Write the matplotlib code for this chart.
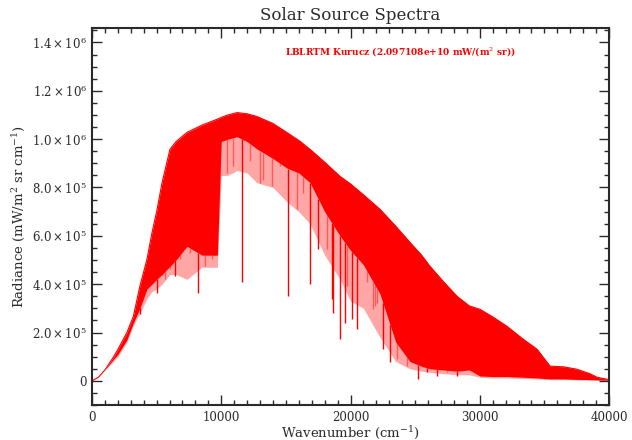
import matplotlib
matplotlib.use("Agg")
import matplotlib.pyplot as plt
from matplotlib.ticker import MultipleLocator, FixedLocator
import numpy as np

# envelope of the Kurucz solar spectrum
wavenumber = [0, 500, 1000, 1650, 2000, 2700, 3200, 3700, 4250, 4640, 5000, 5420,
              6030, 6500, 7350, 8500, 9700, 10000, 10500, 11220, 12000, 12750,
              14000, 15090, 16000, 16870, 18000, 19190, 20000, 21000, 22280,
              23500, 24600, 25500, 26150, 27200, 28240, 29200, 30020, 31000,
              32100, 33300, 34430, 35440, 36500, 37520, 38500, 39070, 40000]
upper = [0, 15e3, 45e3, 98e3, 130e3, 200e3, 267e3, 391e3, 503e3, 613e3, 700e3,
         820e3, 958e3, 990e3, 1028e3, 1058e3, 1083e3, 1090e3, 1100e3, 1110e3,
         1105e3, 1094e3, 1065e3, 1027e3, 995e3, 958e3, 905e3, 846e3, 815e3,
         770e3, 710e3, 640e3, 573e3, 520e3, 474e3, 410e3, 350e3, 310e3, 296e3,
         265e3, 226e3, 175e3, 131e3, 61e3, 58e3, 48e3, 30e3, 15e3, 5e3]
dense_lower = [0, 15e3, 45e3, 88e3, 110e3, 170e3, 240e3, 300e3, 380e3, 400e3,
               420e3, 440e3, 474e3, 500e3, 557e3, 520e3, 520e3, 990e3, 1000e3,
               1010e3, 990e3, 960e3, 920e3, 880e3, 860e3, 820e3, 700e3, 600e3,
               540e3, 480e3, 360e3, 160e3, 80e3, 60e3, 50e3, 45e3, 40e3, 45e3,
               20e3, 18e3, 18e3, 15e3, 12e3, 8e3, 8e3, 6e3, 5e3, 4e3, 3e3]
faint_lower = [0, 15e3, 45e3, 80e3, 100e3, 160e3, 230e3, 280e3, 340e3, 370e3,
               380e3, 400e3, 440e3, 440e3, 420e3, 470e3, 470e3, 850e3, 850e3,
               870e3, 860e3, 820e3, 800e3, 740e3, 700e3, 650e3, 520e3, 420e3,
               330e3, 300e3, 180e3, 80e3, 50e3, 40e3, 35e3, 30e3, 25e3, 25e3,
               15e3, 12e3, 12e3, 10e3, 8e3, 5e3, 5e3, 4e3, 3e3, 2e3, 1e3]

# absorption lines: position and minimum radiance
line_wn = [3710, 3950, 4490, 5030, 5420, 5650, 6030, 6420, 6810, 7350, 7580,
           7810, 8200, 8740, 9280, 9520, 10440, 10900, 11600, 12220, 13000,
           13230, 13930, 14550, 15170, 15860, 16330, 16870, 17490, 18180,
           18570, 18650, 19190, 19570, 19730, 20120, 20500, 21280, 21740,
           21900, 22050, 22510, 23060, 23600, 24370, 25220, 25920, 26690,
           27470, 28240, 29250]
line_min = [275e3, 338e3, 391e3, 365e3, 448e3, 420e3, 461e3, 433e3, 503e3,
            640e3, 530e3, 613e3, 365e3, 474e3, 503e3, 805e3, 862e3, 888e3,
            407e3, 911e3, 820e3, 833e3, 805e3, 888e3, 350e3, 710e3, 778e3,
            400e3, 545e3, 545e3, 338e3, 282e3, 172e3, 241e3, 391e3, 255e3,
            214e3, 407e3, 296e3, 308e3, 323e3, 131e3, 76e3, 90e3, 61e3, 7e3,
            35e3, 19e3, 35e3, 19e3, 48e3]

ytick_vals = [0, 2e5, 4e5, 6e5, 8e5, 1.0e6, 1.2e6, 1.4e6]
ytick_labels = ['0', r'$2.0\times10^{5}$', r'$4.0\times10^{5}$', r'$6.0\times10^{5}$',
                r'$8.0\times10^{5}$', r'$1.0\times10^{6}$', r'$1.2\times10^{6}$',
                r'$1.4\times10^{6}$']

plt.rcParams['font.family'] = ['DejaVu Serif']
plt.rcParams['mathtext.fontset'] = 'dejavuserif'

ink = '#2a2a2a'
fig = plt.figure(figsize=(6.32, 4.40), dpi=100)
ax = fig.add_axes([0.1456, 0.0795, 0.8180, 0.8569])

wn = np.array(wavenumber)
ax.fill_between(wn, faint_lower, upper, color='red', alpha=0.35, lw=0)
ax.fill_between(wn, dense_lower, upper, color='red', lw=0)
ax.plot(wn, upper, color='red', lw=0.8)
# each line hangs from the dense part of the spectrum down to its minimum
line_top = np.interp(line_wn, wn, dense_lower)
deep = np.array(line_min) < np.interp(line_wn, wn, faint_lower)
ax.vlines(np.array(line_wn)[deep], np.array(line_min)[deep], line_top[deep],
          color='red', lw=1.0)
ax.vlines(np.array(line_wn)[~deep], np.array(line_min)[~deep], line_top[~deep],
          color='red', lw=1.0, alpha=0.45)

ax.set_xlim(0, 40000)
ax.set_ylim(-1e5, 1.46e6)
ax.xaxis.set_major_locator(MultipleLocator(10000))
ax.xaxis.set_minor_locator(MultipleLocator(1000))
ax.yaxis.set_major_locator(FixedLocator(ytick_vals))
ax.yaxis.set_minor_locator(MultipleLocator(5e4))
ax.set_yticklabels(ytick_labels)
ax.tick_params(which='both', direction='in', top=True, right=True, colors=ink,
               labelsize=8.5, width=1.0)
ax.tick_params(which='major', length=7)
ax.tick_params(which='minor', length=3.5)
ax.tick_params(axis='x', pad=4)
for s in ax.spines.values():
    s.set_color(ink)
    s.set_linewidth(1.5)

ax.set_title('Solar Source Spectra', fontsize=12, color=ink, pad=6)
ax.set_xlabel(r'Wavenumber (cm$^{-1}$)', fontsize=9.5, color=ink, labelpad=0)
ax.set_ylabel(r'Radiance (mW/m$^{2}$ sr cm$^{-1}$)', fontsize=9.5, color=ink, labelpad=4)
ax.text(0.374, 0.935, r'LBLRTM Kurucz (2.097108e+10 mW/(m$^{2}$ sr))', transform=ax.transAxes,
        color='red', fontsize=6.5, fontweight='bold', va='center')

fig.savefig('out.png', dpi=100)
